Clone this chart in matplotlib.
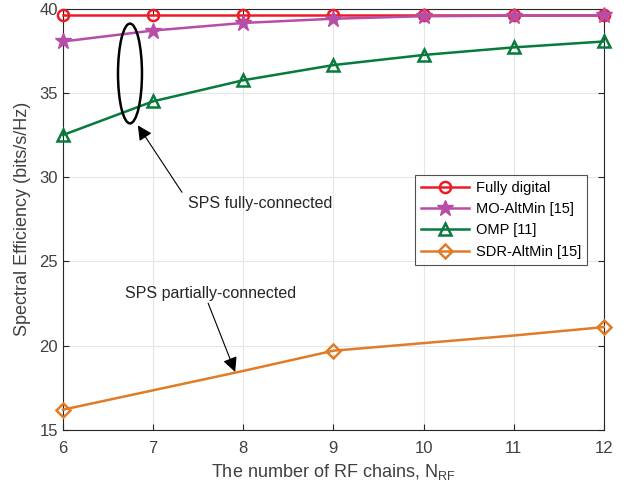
import numpy as np
import matplotlib
matplotlib.use('Agg')
import matplotlib.pyplot as plt
from matplotlib.patches import Ellipse

plt.rcParams['font.family'] = ['Liberation Sans', 'DejaVu Sans']

n_rf = [6, 7, 8, 9, 10, 11, 12]
fully_digital = [39.6, 39.6, 39.6, 39.6, 39.6, 39.6, 39.6]
mo_altmin = [38.05, 38.7, 39.15, 39.4, 39.55, 39.58, 39.6]
omp = [32.5, 34.5, 35.75, 36.65, 37.25, 37.7, 38.05]
sdr_altmin = [16.2, 17.35, 18.5, 19.7, 20.15, 20.6, 21.1]

red = '#ED1C24'
purple = '#B84DA8'
green = '#087A3C'
orange = '#E07B28'
txt = '#404040'

fig = plt.figure(figsize=(6.27, 4.93), dpi=100)
ax = fig.add_axes([0.1005, 0.128, 0.8625, 0.8545])

ax.plot(n_rf, fully_digital, color=red, lw=1.8, marker='o', ms=8,
        mfc='none', mew=1.8, label='Fully digital', zorder=3, clip_on=False)
ax.plot(n_rf, mo_altmin, color=purple, lw=1.8, marker='*', ms=12,
        mfc=purple, mew=1.0, label='MO-AltMin [15]', zorder=4, clip_on=False)
ax.plot(n_rf, omp, color=green, lw=1.8, marker='^', ms=9,
        mfc='none', mew=1.8, label='OMP [11]', zorder=3, clip_on=False)
ax.plot(n_rf, sdr_altmin, color=orange, lw=1.8, marker='D', ms=7,
        mfc='none', mew=1.8, markevery=3, label='SDR-AltMin [15]', zorder=3,
        clip_on=False)

ax.set_xlim(6, 12)
ax.set_ylim(15, 40)
ax.set_xticks(n_rf)
ax.set_yticks([15, 20, 25, 30, 35, 40])
ax.grid(True, color='#E6E6E6', lw=0.8)
ax.set_axisbelow(True)
ax.tick_params(direction='in', top=True, right=True, labelsize=12,
               colors='#262626', labelcolor=txt, length=4)
ax.tick_params(axis='x', pad=8)
for s in ax.spines.values():
    s.set_color('#262626')
    s.set_linewidth(0.8)

ax.set_xlabel('The number of RF chains, N$_{\\mathregular{RF}}$', fontsize=13,
              color=txt, labelpad=4)
ax.set_ylabel('Spectral Efficiency (bits/s/Hz)', fontsize=13, color=txt,
              labelpad=6)

# annotations
ell = Ellipse((6.743, 36.15), width=0.266, height=5.92, fill=False,
              edgecolor='black', lw=1.8, zorder=5)
ax.add_patch(ell)
arrow = dict(arrowstyle='-|>', color='black', lw=0.8, mutation_scale=22,
             shrinkA=0, shrinkB=0)
ax.text(7.386, 28.45, 'SPS fully-connected', fontsize=11.5, color='#262626',
        ha='left', va='center')
ax.annotate('', xy=(6.83, 33.07), xytext=(7.32, 29.1), arrowprops=arrow)
ax.text(6.688, 23.12, 'SPS partially-connected', fontsize=11.5, color='#262626',
        ha='left', va='center')
ax.annotate('', xy=(7.91, 18.44), xytext=(7.61, 22.52), arrowprops=arrow)

leg = ax.legend(loc='upper left', bbox_to_anchor=(0.651, 0.605), fontsize=10.5,
                frameon=True, fancybox=False, edgecolor='#262626',
                handlelength=3.3, borderpad=0.4, labelspacing=0.5,
                handletextpad=0.5, borderaxespad=0)
leg.get_frame().set_linewidth(0.8)

fig.savefig('out.png', dpi=100)
